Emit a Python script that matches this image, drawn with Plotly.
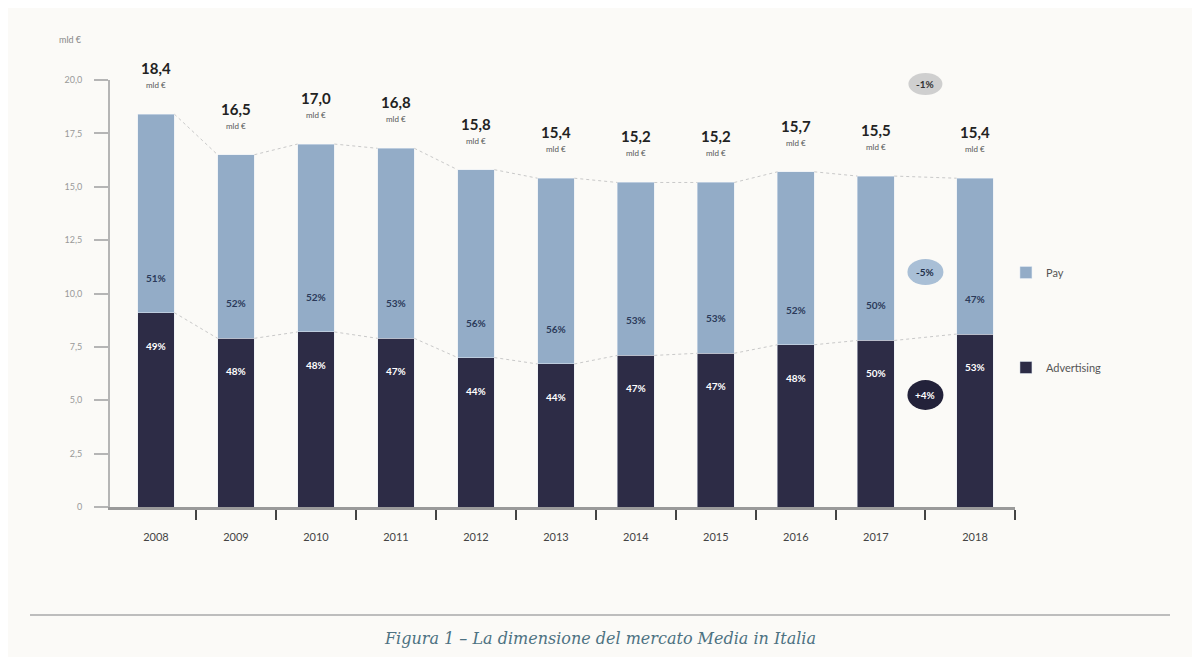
import plotly.graph_objects as go

# ---- data ----
years = ["2008", "2009", "2010", "2011", "2012", "2013", "2014", "2015", "2016", "2017", "2018"]
totals = [18.4, 16.5, 17.0, 16.8, 15.8, 15.4, 15.2, 15.2, 15.7, 15.5, 15.4]
advertising = [9.1, 7.9, 8.2, 7.9, 7.0, 6.7, 7.1, 7.2, 7.6, 7.8, 8.1]
pay = [round(t - a, 1) for t, a in zip(totals, advertising)]
y_ticks = [0, 2.5, 5, 7.5, 10, 12.5, 15, 17.5, 20]
y_ticktext = ["0", "2,5", "5,0", "7,5", "10,0", "12,5", "15,0", "17,5", "20,0"]
change_labels = ["-1%", "-5%", "+4%"]  # total, pay, advertising (2017 -> 2018)

# ---- styling ----
PAY_C = "#93acc7"
ADV_C = "#2d2c46"
BG = "#fbfaf7"
BAR_W = 0.46

# page offset compensation (body margin of the html page)
OFF = 8
L, T = 110 - OFF, 80 - OFF
PW, PH = 905, 427
R = 1200 - L - PW
B = 657 - T - PH
X0, X1 = -0.575, 10.74

# x positions (last bar set apart to leave room for the change bubbles)
xpos = list(range(10)) + [10.24]

fig = go.Figure()
fig.add_trace(go.Bar(x=xpos, y=advertising, name="Advertising", marker_color=ADV_C,
                     width=BAR_W, legendgroup="a", legendrank=2, hoverinfo="skip"))
fig.add_trace(go.Bar(x=xpos, y=pay, name="Pay", marker_color=PAY_C,
                     width=BAR_W, legendgroup="p", legendrank=1, hoverinfo="skip"))

# dotted connectors between bars
for series in (totals, advertising):
    for i in range(len(xpos) - 1):
        fig.add_trace(go.Scatter(
            x=[xpos[i] + BAR_W / 2, xpos[i + 1] - BAR_W / 2],
            y=[series[i], series[i + 1]],
            mode="lines", line=dict(color="#c9c9c9", width=1, dash="dot"),
            showlegend=False, hoverinfo="skip"))

annotations = []
for i, x in enumerate(xpos):
    tot = totals[i]
    annotations.append(dict(x=x, y=tot, text="<b>" + f"{tot:.1f}".replace(".", ",") + "</b>",
                            showarrow=False, yshift=46,
                            font=dict(family="Lato", size=15, color="#222222")))
    annotations.append(dict(x=x, y=tot, text="mld €", showarrow=False, yshift=29,
                            font=dict(family="Lato", size=8, color="#555555")))
    ap = round(advertising[i] / tot * 100)
    pp = 100 - ap
    annotations.append(dict(x=x, y=advertising[i], text=f"<b>{pp}%</b>", showarrow=False,
                            yshift=35, font=dict(family="Lato", size=10, color="#2b3a5a")))
    annotations.append(dict(x=x, y=advertising[i], text=f"<b>{ap}%</b>", showarrow=False,
                            yshift=-33, font=dict(family="Lato", size=10, color="#ffffff")))

# change bubbles between 2017 and 2018 (paper coords so they are not clipped)
bx = (xpos[9] + xpos[10]) / 2
bxp = (bx - X0) / (X1 - X0)
bubbles = [(84, "#cfcfcf", "#333333", 17, 11),
           (272, "#a9bfd6", "#1f2f4a", 18, 13),
           (395, "#23223a", "#ffffff", 18, 15)]
shapes = []
for (py, fill, tc, rx, ry), lab in zip(bubbles, change_labels):
    byp = (507 - py) / PH
    shapes.append(dict(type="circle", xref="paper", yref="paper",
                       x0=bxp - rx / PW, x1=bxp + rx / PW,
                       y0=byp - ry / PH, y1=byp + ry / PH,
                       fillcolor=fill, line=dict(width=0), layer="below"))
    annotations.append(dict(xref="paper", yref="paper", x=bxp, y=byp, text=f"<b>{lab}</b>",
                            xanchor="center", yanchor="middle",
                            showarrow=False, font=dict(family="Lato", size=10, color=tc)))

# unit label at top of y axis
annotations.append(dict(xref="paper", yref="paper", x=(70 - 110) / PW, y=(507 - 40) / PH,
                        xanchor="center", yanchor="middle",
                        text="mld €", showarrow=False,
                        font=dict(family="Lato", size=9, color="#888888")))

# caption and separator line
annotations.append(dict(xref="paper", yref="paper", x=(600 - 110) / PW, y=-(638 - 507) / PH,
                        xanchor="center", yanchor="middle",
                        text="<i>Figura 1 – La dimensione del mercato Media in Italia</i>",
                        showarrow=False,
                        font=dict(family="DejaVu Serif", size=16, color="#4d7282")))
shapes.append(dict(type="line", xref="paper", yref="paper",
                   x0=-(110 - 30) / PW, x1=(1170 - 110) / PW,
                   y0=-(615 - 507) / PH, y1=-(615 - 507) / PH,
                   line=dict(color="#bdbdbd", width=2)))

minor_vals = [i + 0.5 for i in range(9)] + [bx, X1]

fig.update_layout(
    width=1200, height=657,
    margin=dict(l=L, r=R, t=T, b=B),
    paper_bgcolor=BG, plot_bgcolor=BG,
    barmode="stack",
    showlegend=True,
    legend=dict(x=0.99, xanchor="left", y=(507 - 258) / PH, yanchor="top",
                traceorder="grouped",
                tracegroupgap=76, bgcolor="rgba(0,0,0,0)",
                font=dict(family="Lato", size=11, color="#555555")),
    annotations=annotations,
    shapes=shapes,
    font=dict(family="Lato"),
)
fig.update_xaxes(
    range=[X0, X1], tickvals=xpos, ticktext=years,
    ticks="outside", ticklen=18, tickcolor="rgba(0,0,0,0)",
    tickfont=dict(family="Lato", size=11, color="#444444"),
    showgrid=False, zeroline=False,
    showline=True, linecolor="#9a9a9a", linewidth=3,
    minor=dict(tickvals=minor_vals, ticks="outside", ticklen=10, tickcolor="#444444",
               tickwidth=2, showgrid=False),
)
fig.update_yaxes(
    range=[0, 20], tickvals=y_ticks, ticktext=y_ticktext,
    ticks="outside", ticklen=14, tickcolor="#b5b5b5", tickwidth=2,
    ticklabelstandoff=10,
    tickfont=dict(family="Lato", size=9, color="#999999"),
    showgrid=False, zeroline=False,
    showline=True, linecolor="#b5b5b5", linewidth=2,
)

fig.write_html("out.html")
